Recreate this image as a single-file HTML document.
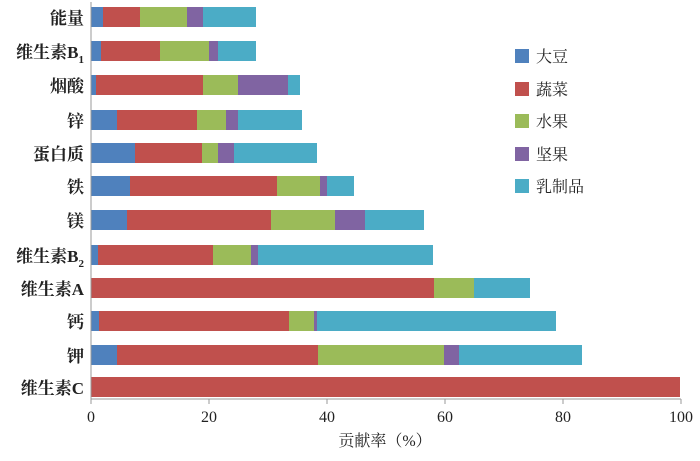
<!DOCTYPE html>
<html><head><meta charset="utf-8"><style>
body{margin:0;background:#fff;}
svg text{font-family:"Liberation Serif","Noto Serif CJK SC",serif;fill:#222;}
</style></head><body>
<svg width="700" height="456" xmlns="http://www.w3.org/2000/svg">
<g id="bars"></g>
<line x1="91" y1="2" x2="91" y2="399" stroke="#999" stroke-width="1"/>
<line x1="91" y1="399" x2="681" y2="399" stroke="#999" stroke-width="1"/>
<g stroke="#999">
<line x1="91" y1="399" x2="91" y2="404"/><line x1="209" y1="399" x2="209" y2="404"/><line x1="327" y1="399" x2="327" y2="404"/><line x1="445" y1="399" x2="445" y2="404"/><line x1="563" y1="399" x2="563" y2="404"/><line x1="681" y1="399" x2="681" y2="404"/>
</g>
<g font-size="16" text-anchor="middle">
<text x="91" y="422">0</text><text x="209" y="422">20</text><text x="327" y="422">40</text><text x="445" y="422">60</text><text x="563" y="422">80</text><text x="681" y="422">100</text>
</g>
<text x="385" y="446" font-size="16" text-anchor="middle">贡献率（%）</text>
<g font-size="17" text-anchor="end" font-weight="bold">
<text x="84" y="24">能量</text>
<text x="84" y="58">维生素B<tspan font-size="11" dy="5">1</tspan></text>
<text x="84" y="92">烟酸</text>
<text x="84" y="127">锌</text>
<text x="84" y="160">蛋白质</text>
<text x="84" y="193">铁</text>
<text x="84" y="227">镁</text>
<text x="84" y="262">维生素B<tspan font-size="11" dy="5">2</tspan></text>
<text x="84" y="295">维生素A</text>
<text x="84" y="328">钙</text>
<text x="84" y="362">钾</text>
<text x="84" y="394">维生素C</text>
</g>
<g font-size="16">
<rect x="515" y="49" width="14" height="14" fill="#4f81bd"/><text x="536" y="62">大豆</text>
<rect x="515" y="82" width="14" height="14" fill="#c0504d"/><text x="536" y="95">蔬菜</text>
<rect x="515" y="114" width="14" height="14" fill="#9bbb59"/><text x="536" y="127">水果</text>
<rect x="515" y="147" width="14" height="14" fill="#8064a2"/><text x="536" y="160">坚果</text>
<rect x="515" y="179" width="14" height="14" fill="#4bacc6"/><text x="536" y="192">乳制品</text>
</g>
</svg>
<script>
const C=["#4f81bd","#c0504d","#9bbb59","#8064a2","#4bacc6"];
const rows=[[17,[91,103,140,187,203,256]],[51,[91,101,160,209,218,256]],[85,[91,96,203,238,288,300]],[120,[91,117,197,226,238,302]],[153,[91,135,202,218,234,317]],[186,[91,130,277,320,327,354]],[220,[91,127,271,335,365,424]],[255,[91,98,213,251,258,433]],[288,[91,91,434,474,474,530]],[321,[91,99,289,314,317,556]],[355,[91,117,318,444,459,582]],[387,[91,91,680,680,680,680]]];
let s="";
for(const [y,e] of rows){for(let i=0;i<5;i++){const w=e[i+1]-e[i];if(w>0)s+=`<rect x="${e[i]}" y="${y-10}" width="${w}" height="20" fill="${C[i]}"/>`;}}
document.getElementById("bars").innerHTML=s;
</script>
</body></html>
